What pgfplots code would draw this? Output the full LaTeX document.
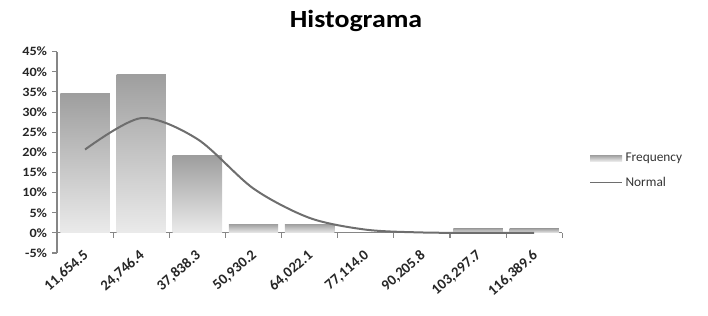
\documentclass[border=0pt]{standalone}
\usepackage{pgfplots}
\pgfplotsset{compat=1.18}
\usepackage{fontspec}
\setmainfont{Carlito}
\definecolor{axisgray}{HTML}{868686}
\definecolor{linegray}{HTML}{6E6E6E}
\begin{document}
\begin{tikzpicture}
\useasboundingbox (-42.75pt,-46.5pt) rectangle (488.25pt,189.75pt);
\begin{axis}[
  at={(0,0)}, anchor=south west,
  scale only axis, width=379pt, height=151pt,
  xmin=-0.5, xmax=8.5, ymin=-5, ymax=45,
  axis x line=middle, axis y line=left,
  axis line style={-, draw=axisgray, line width=0.8pt},
  hide obscured x ticks=false, hide obscured y ticks=false,
  ytick={-5,0,5,...,45},
  yticklabel={\pgfmathprintnumber{\tick}\%},
  /pgf/number format/assume math mode=true,
  yticklabel style={font=\bfseries\fontsize{9.5}{11}\selectfont, xscale=1.12, text=black!85},
  ytick style={draw=axisgray, line width=0.8pt},
  tick align=outside, major tick length=3.5pt,
  xtick={-0.5,0.5,...,8.5}, xticklabels={,,,,,,,,,},
  xtick style={draw=axisgray, line width=0.8pt},
  extra x ticks={0,1,...,8},
  extra x tick labels={{11,654.5},{24,746.4},{37,838.3},{50,930.2},{64,022.1},{77,114.0},{90,205.8},{103,297.7},{116,389.6}},
  extra x tick style={major tick length=0pt, tick label style={xshift=-2pt, yshift=-12pt, rotate=41, anchor=north east, inner sep=0pt, font=\bfseries\fontsize{11}{13}\selectfont, text=black!85}},
  clip=false,
  legend style={at={(axis description cs:1.045,0.41)}, anchor=west, draw=none, fill=none,
    font=\fontsize{10}{12}\selectfont, text=black!80, row sep=6pt, legend cell align=left},
]
\pgfplotsset{histbar/.style={ybar, bar width=0.88, bar shift=0pt, draw=none, top color=black!38, bottom color=black!8}}
\addplot[histbar, legend image code/.code={\fill[black!28] (0pt,-2.3pt) rectangle (24pt,2.3pt);}]
  coordinates {(0,34.6)};
\addlegendentry{Frequency}
\addplot[histbar, forget plot] coordinates {(1,39.4)};
\addplot[histbar, forget plot] coordinates {(2,19.1)};
\addplot[histbar, forget plot] coordinates {(3,2.2)};
\addplot[histbar, forget plot] coordinates {(4,2.2)};
\addplot[histbar, forget plot] coordinates {(7,1.1)};
\addplot[histbar, forget plot] coordinates {(8,1.1)};
\addplot[smooth, color=linegray, line width=1.5pt, no markers,
  legend image code/.code={\draw[linegray, line width=1.2pt] (0pt,0pt) -- (24pt,0pt);}]
  coordinates {(0,20.7) (1,28.5) (2,23.3) (3,11.0) (4,3.7) (5,0.8) (6,0.1) (7,0) (8,0)};
\addlegendentry{Normal}
\end{axis}
\node[font=\bfseries\fontsize{18.5}{22}\selectfont, xscale=1.13] at (224.25pt,174pt) {Histograma};
\end{tikzpicture}
\end{document}
